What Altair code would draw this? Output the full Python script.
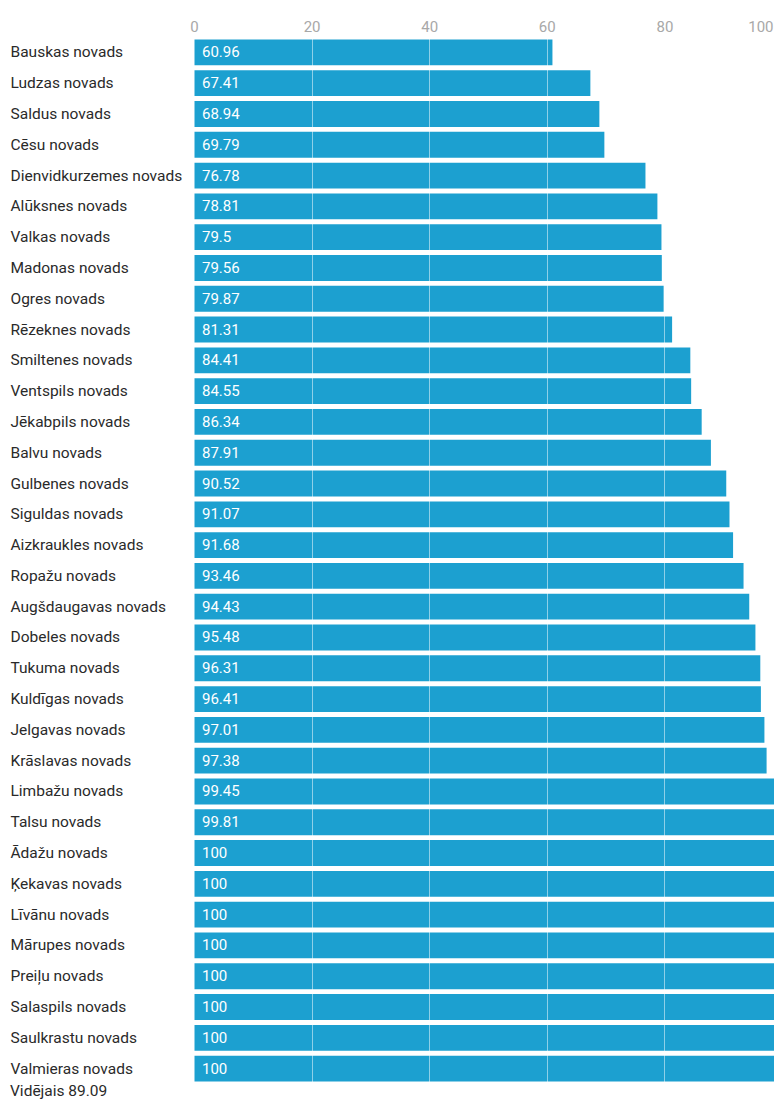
import altair as alt
import pandas as pd

regions = [
    "Bauskas novads", "Ludzas novads", "Saldus novads", "Cēsu novads",
    "Dienvidkurzemes novads", "Alūksnes novads", "Valkas novads", "Madonas novads",
    "Ogres novads", "Rēzeknes novads", "Smiltenes novads", "Ventspils novads",
    "Jēkabpils novads", "Balvu novads", "Gulbenes novads", "Siguldas novads",
    "Aizkraukles novads", "Ropažu novads", "Augšdaugavas novads", "Dobeles novads",
    "Tukuma novads", "Kuldīgas novads", "Jelgavas novads", "Krāslavas novads",
    "Limbažu novads", "Talsu novads", "Ādažu novads", "Ķekavas novads",
    "Līvānu novads", "Mārupes novads", "Preiļu novads", "Salaspils novads",
    "Saulkrastu novads", "Valmieras novads",
]
values = [
    60.96, 67.41, 68.94, 69.79, 76.78, 78.81, 79.5, 79.56, 79.87, 81.31,
    84.41, 84.55, 86.34, 87.91, 90.52, 91.07, 91.68, 93.46, 94.43, 95.48,
    96.31, 96.41, 97.01, 97.38, 99.45, 99.81, 100, 100, 100, 100, 100, 100, 100, 100,
]
x_ticks = [0, 20, 40, 60, 80, 100]
footer = "Vidējais 89.09"

df = pd.DataFrame({"region": regions, "value": values})

BLUE = "#1ca0d0"
FONT = "Roboto"

y_enc = alt.Y(
    "region:N",
    sort=regions,
    title=None,
    scale=alt.Scale(paddingInner=0.16, paddingOuter=0.08),
    axis=alt.Axis(
        orient="left", labelAlign="left", labelPadding=184, ticks=False,
        domain=False, labelFontSize=15.5, labelColor="#2a2a2a", labelFont=FONT,
        labelLimit=200,
    ),
)

x_enc = alt.X(
    "value:Q",
    title=None,
    scale=alt.Scale(domain=[0, 100], range=[0, 588], nice=False),
    axis=alt.Axis(
        orient="top", values=x_ticks, ticks=False, domain=False,
        labelPadding=3, labelFontSize=15, labelColor="#a8a8a8", labelFont=FONT,
        grid=True, gridColor="white", gridOpacity=0.5, gridWidth=1, zindex=1,
        labelAlign={"condition": {"test": "datum.value === 100", "value": "right"}, "value": "center"},
        labelOffset={"condition": {"test": "datum.value === 100", "value": -9}, "value": 0},
    ),
)

bars = alt.Chart(df).mark_bar(color=BLUE).encode(y=y_enc, x=x_enc)

labels = alt.Chart(df).mark_text(
    align="left", baseline="middle", dx=8, color="white", fontSize=15, font=FONT
).encode(
    y=alt.Y("region:N", sort=regions),
    x=alt.datum(0),
    text="value:N",
)

chart = (
    alt.layer(bars, labels)
    .properties(
        width=580,
        height=1047,
        autosize=alt.AutoSizeParams(type="none"),
        padding={"left": 186, "top": 29, "right": 0, "bottom": 18},
        title=alt.TitleParams(
            footer, orient="bottom", anchor="start", frame="bounds",
            fontSize=15.5, fontWeight="normal", font=FONT, color="#2a2a2a", offset=0,
        ),
    )
    .configure_view(stroke=None)
)

chart.save("out.html", embed_options={"renderer": "svg", "actions": False})
